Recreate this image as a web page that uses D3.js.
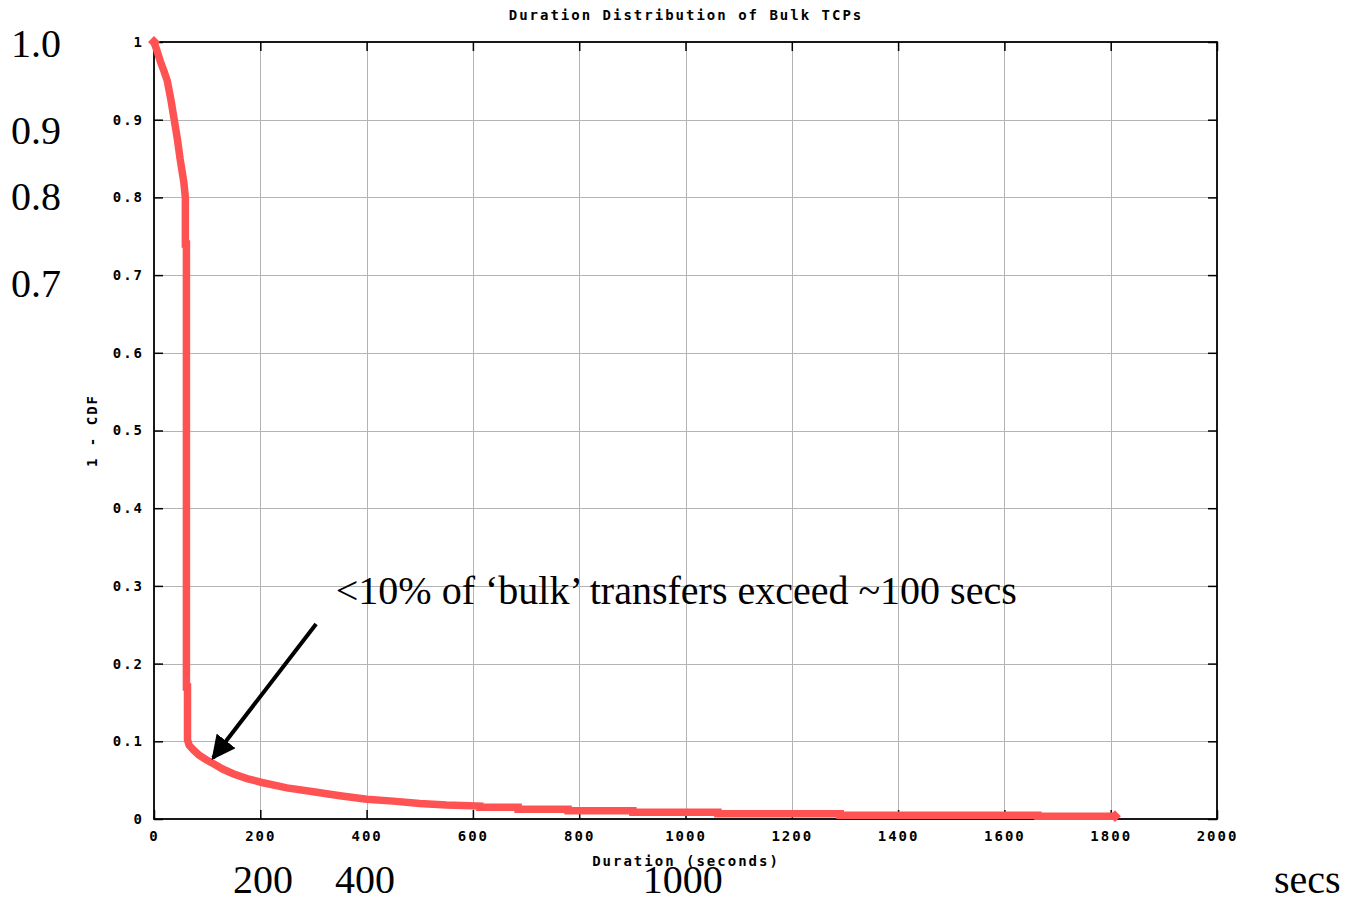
<!DOCTYPE html>
<html>
<head>
<meta charset="utf-8">
<script src="https://cdn.jsdelivr.net/npm/d3@7"></script>
<style>
  html, body { margin: 0; padding: 0; background: #fff; }
  svg { display: block; }
  .mono { font-family: "DejaVu Sans Mono", monospace; font-size: 14px; font-weight: bold; letter-spacing: 2px; fill: #000; }
  .serif { font-family: "Liberation Serif", "Times New Roman", serif; font-size: 40px; fill: #000; }
</style>
</head>
<body>
<svg id="chart" width="1345" height="899"></svg>
<script>
// Duration (seconds) vs. fraction of bulk TCP connections lasting longer (1 - CDF)
const durations = [0, 5, 12, 19, 25, 32, 38, 44, 49, 56, 59, 59, 61, 61, 63, 63, 66, 74, 85, 99, 112, 130, 150, 175, 203, 250, 300, 350, 400, 450, 500, 550, 613, 613, 685, 685, 779, 779, 901, 901, 1061, 1061, 1291, 1291, 1663, 1663, 1808];
const survival  = [1.0, 0.99, 0.975, 0.962, 0.95, 0.925, 0.90, 0.875, 0.85, 0.82, 0.80, 0.74, 0.74, 0.17, 0.17, 0.102, 0.095, 0.089, 0.082, 0.076, 0.071, 0.064, 0.058, 0.052, 0.047, 0.040, 0.035, 0.030, 0.0255, 0.023, 0.020, 0.018, 0.0167, 0.015, 0.015, 0.0125, 0.0125, 0.0107, 0.0107, 0.0086, 0.0086, 0.0068, 0.0068, 0.0048, 0.0048, 0.0037, 0.0037];

const xTicks = [0, 200, 400, 600, 800, 1000, 1200, 1400, 1600, 1800, 2000];
const yTicks = [0, 0.1, 0.2, 0.3, 0.4, 0.5, 0.6, 0.7, 0.8, 0.9, 1];

const title = "Duration Distribution of Bulk TCPs";
const xTitle = "Duration (seconds)";
const yTitle = "1 - CDF";

// Hand-written annotations laid over the plot
const leftNotes = ["1.0", "0.9", "0.8", "0.7"];
const leftNoteAt = [0.997, 0.886, 0.800, 0.688];
const bottomNotes = ["200", "400", "1000"];
const bottomNoteAt = [205, 397, 995];
const unitNote = "secs";
const callout = "<10% of \u2018bulk\u2019 transfers exceed ~100 secs";
const calloutAt = [342, 0.277];
const arrowFrom = [305, 0.251];
const arrowTo = [111, 0.0785];

const svg = d3.select("#chart");
const plotL = 154, plotR = 1217, plotT = 42, plotB = 819;

const x = d3.scaleLinear().domain([0, 2000]).range([plotL, plotR]);
const y = d3.scaleLinear().domain([0, 1]).range([plotB, plotT]);

svg.append("rect").attr("width", 1345).attr("height", 899).attr("fill", "#fff");

// grid
const grid = svg.append("g");
grid.selectAll(".gx").data(xTicks.slice(1, -1)).join("line")
  .attr("x1", d => Math.round(x(d)) + 0.5).attr("x2", d => Math.round(x(d)) + 0.5)
  .attr("y1", plotT).attr("y2", plotB)
  .attr("stroke", "#b4b4b4").attr("stroke-width", 1);
grid.selectAll(".gy").data(yTicks.slice(1, -1)).join("line")
  .attr("y1", d => Math.round(y(d)) + 0.5).attr("y2", d => Math.round(y(d)) + 0.5)
  .attr("x1", plotL).attr("x2", plotR)
  .attr("stroke", "#b4b4b4").attr("stroke-width", 1);

// inward tick marks on all four sides
const fmtY = d => (d === 0 || d === 1) ? String(d) : d3.format(".1f")(d);
const axB = svg.append("g").attr("transform", `translate(0,${plotB})`)
  .call(d3.axisBottom(x).tickValues(xTicks).tickSize(-9).tickPadding(12).tickFormat(d3.format("d")));
const axT = svg.append("g").attr("transform", `translate(0,${plotT})`)
  .call(d3.axisTop(x).tickValues(xTicks).tickSize(-9).tickFormat(""));
const axL = svg.append("g").attr("transform", `translate(${plotL},0)`)
  .call(d3.axisLeft(y).tickValues(yTicks).tickSize(-9).tickPadding(10).tickFormat(fmtY));
const axR = svg.append("g").attr("transform", `translate(${plotR},0)`)
  .call(d3.axisRight(y).tickValues(yTicks).tickSize(-9).tickFormat(""));

[axB, axT, axL, axR].forEach(g => {
  g.attr("font-family", null).attr("font-size", null);
  g.select(".domain").remove();
  g.selectAll(".tick line").attr("stroke", "#000").attr("stroke-width", 1.5);
  g.selectAll(".tick text").attr("class", "mono").attr("fill", null);
});

// frame
svg.append("rect").attr("x", plotL).attr("y", plotT)
  .attr("width", plotR - plotL).attr("height", plotB - plotT)
  .attr("fill", "none").attr("stroke", "#000").attr("stroke-width", 1.8);

// curve
const line = d3.line().x(d => x(d[0])).y(d => y(d[1]));
const pts = durations.map((d, i) => [d, survival[i]]);
svg.append("path").datum(pts)
  .attr("d", line)
  .attr("fill", "none").attr("stroke", "#ff5252")
  .attr("stroke-width", 7.5).attr("stroke-linejoin", "miter");

// end point markers
svg.selectAll(".endpt").data([pts[0], pts[pts.length - 1]]).join("path")
  .attr("transform", d => `translate(${x(d[0])},${y(d[1])}) rotate(45)`)
  .attr("d", d3.symbol(d3.symbolSquare, 70))
  .attr("fill", "#ff5252");

// titles
svg.append("text").attr("class", "mono").attr("x", 686).attr("y", 20)
  .attr("text-anchor", "middle").text(title);
svg.append("text").attr("class", "mono").attr("x", 686).attr("y", 866)
  .attr("text-anchor", "middle").text(xTitle);
svg.append("text").attr("class", "mono")
  .attr("transform", `translate(97,${(plotT + plotB) / 2}) rotate(-90)`)
  .attr("text-anchor", "middle").text(yTitle);

// overlay annotations
svg.selectAll(".ln").data(leftNotes).join("text")
  .attr("class", "serif").attr("x", 11)
  .attr("y", (d, i) => y(leftNoteAt[i]) + 13)
  .text(d => d);
svg.selectAll(".bn").data(bottomNotes).join("text")
  .attr("class", "serif").attr("text-anchor", "middle")
  .attr("x", (d, i) => x(bottomNoteAt[i]))
  .attr("y", 893).text(d => d);
svg.append("text").attr("class", "serif").attr("x", 1274).attr("y", 893).text(unitNote);

svg.append("text").attr("class", "serif")
  .attr("x", x(calloutAt[0])).attr("y", y(calloutAt[1]))
  .text(callout);

// arrow
svg.append("defs").append("marker")
  .attr("id", "head").attr("viewBox", "0 0 10 10")
  .attr("refX", 9).attr("refY", 5)
  .attr("markerWidth", 6).attr("markerHeight", 6)
  .attr("markerUnits", "strokeWidth").attr("orient", "auto")
  .append("path").attr("d", "M0,0 L10,5 L0,10 Z").attr("fill", "#000");
svg.append("line")
  .attr("x1", x(arrowFrom[0])).attr("y1", y(arrowFrom[1]))
  .attr("x2", x(arrowTo[0])).attr("y2", y(arrowTo[1]))
  .attr("stroke", "#000").attr("stroke-width", 4)
  .attr("marker-end", "url(#head)");
</script>
</body>
</html>
